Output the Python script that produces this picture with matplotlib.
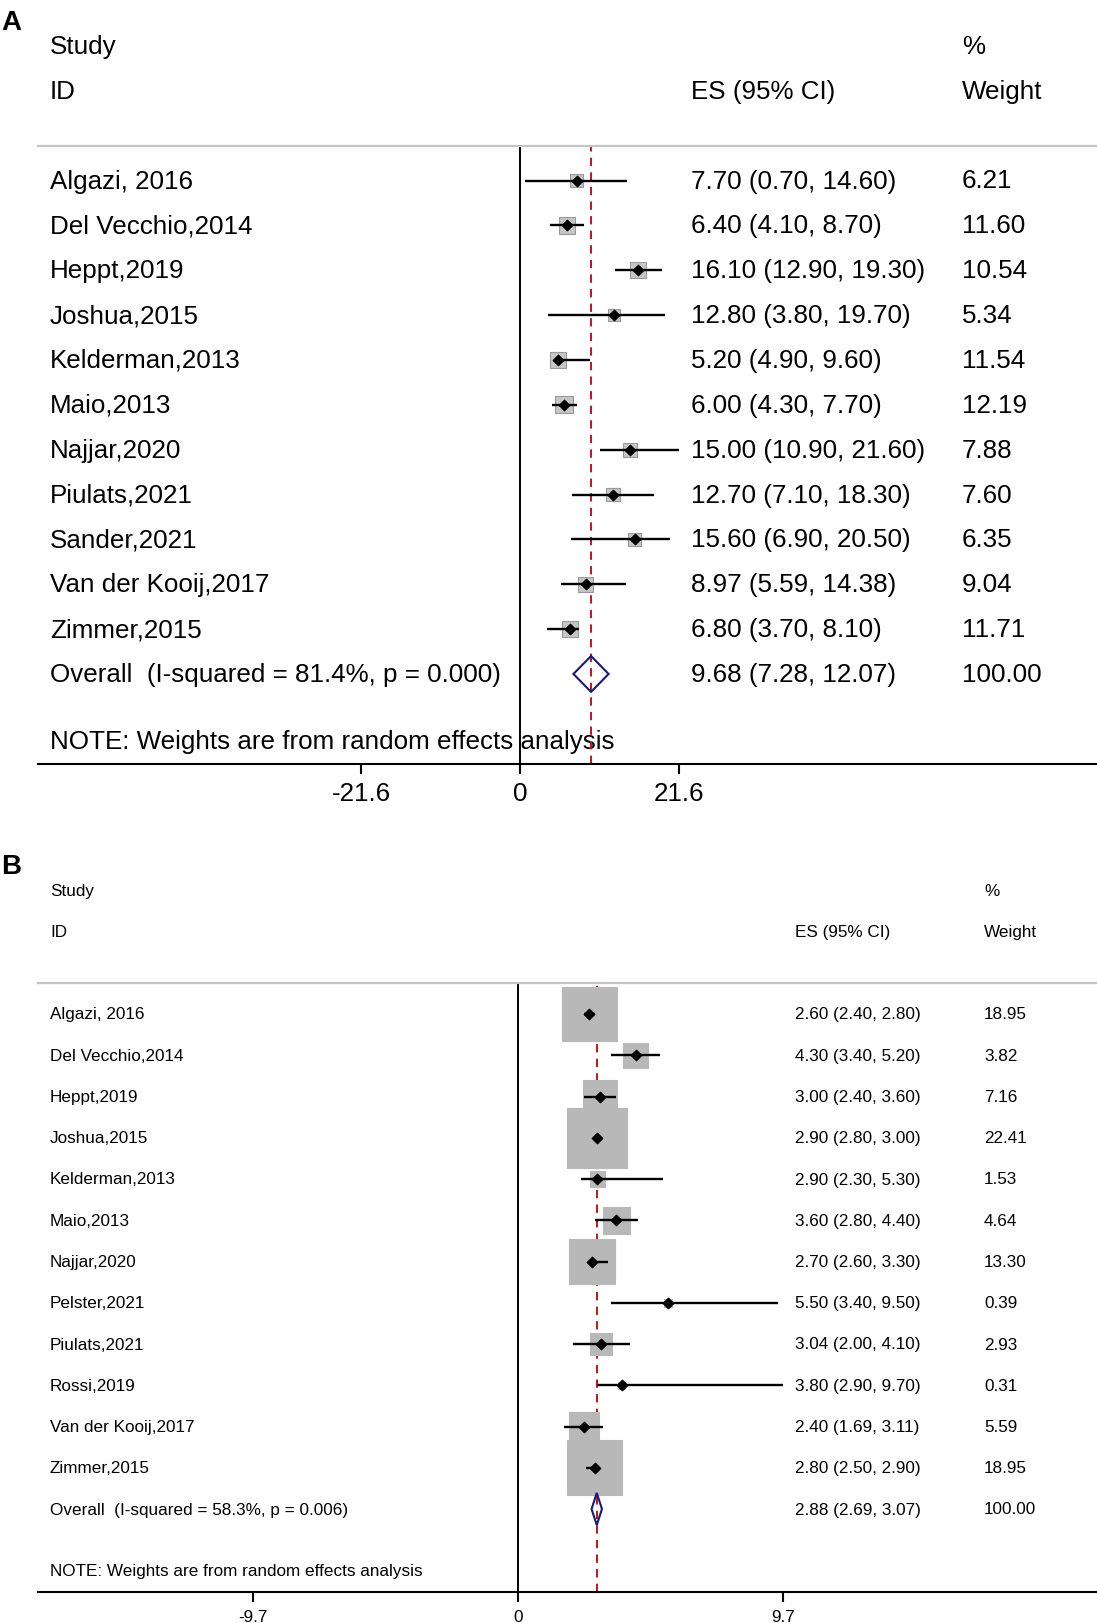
import matplotlib
matplotlib.use('Agg')
import matplotlib.pyplot as plt
from matplotlib.patches import Polygon
import numpy as np

plt.rcParams['font.family'] = ['Liberation Sans', 'DejaVu Sans']

# panel A data
studies_a = ['Algazi, 2016', 'Del Vecchio,2014', 'Heppt,2019', 'Joshua,2015',
             'Kelderman,2013', 'Maio,2013', 'Najjar,2020', 'Piulats,2021',
             'Sander,2021', 'Van der Kooij,2017', 'Zimmer,2015']
es_a = [7.70, 6.40, 16.10, 12.80, 5.20, 6.00, 15.00, 12.70, 15.60, 8.97, 6.80]
lo_a = [0.70, 4.10, 12.90, 3.80, 4.90, 4.30, 10.90, 7.10, 6.90, 5.59, 3.70]
hi_a = [14.60, 8.70, 19.30, 19.70, 9.60, 7.70, 21.60, 18.30, 20.50, 14.38, 8.10]
wt_a = [6.21, 11.60, 10.54, 5.34, 11.54, 12.19, 7.88, 7.60, 6.35, 9.04, 11.71]
ci_txt_a = ['7.70 (0.70, 14.60)', '6.40 (4.10, 8.70)', '16.10 (12.90, 19.30)',
            '12.80 (3.80, 19.70)', '5.20 (4.90, 9.60)', '6.00 (4.30, 7.70)',
            '15.00 (10.90, 21.60)', '12.70 (7.10, 18.30)', '15.60 (6.90, 20.50)',
            '8.97 (5.59, 14.38)', '6.80 (3.70, 8.10)']
wt_txt_a = ['6.21', '11.60', '10.54', '5.34', '11.54', '12.19', '7.88', '7.60',
            '6.35', '9.04', '11.71']
overall_a = (9.68, 7.28, 12.07)
overall_lbl_a = 'Overall  (I-squared = 81.4%, p = 0.000)'
overall_txt_a = '9.68 (7.28, 12.07)'
ticks_a = [-21.6, 0, 21.6]
ticklabels_a = ['-21.6', '0', '21.6']

# panel B data
studies_b = ['Algazi, 2016', 'Del Vecchio,2014', 'Heppt,2019', 'Joshua,2015',
             'Kelderman,2013', 'Maio,2013', 'Najjar,2020', 'Pelster,2021',
             'Piulats,2021', 'Rossi,2019', 'Van der Kooij,2017', 'Zimmer,2015']
es_b = [2.60, 4.30, 3.00, 2.90, 2.90, 3.60, 2.70, 5.50, 3.04, 3.80, 2.40, 2.80]
lo_b = [2.40, 3.40, 2.40, 2.80, 2.30, 2.80, 2.60, 3.40, 2.00, 2.90, 1.69, 2.50]
hi_b = [2.80, 5.20, 3.60, 3.00, 5.30, 4.40, 3.30, 9.50, 4.10, 9.70, 3.11, 2.90]
wt_b = [18.95, 3.82, 7.16, 22.41, 1.53, 4.64, 13.30, 0.39, 2.93, 0.31, 5.59, 18.95]
ci_txt_b = ['2.60 (2.40, 2.80)', '4.30 (3.40, 5.20)', '3.00 (2.40, 3.60)',
            '2.90 (2.80, 3.00)', '2.90 (2.30, 5.30)', '3.60 (2.80, 4.40)',
            '2.70 (2.60, 3.30)', '5.50 (3.40, 9.50)', '3.04 (2.00, 4.10)',
            '3.80 (2.90, 9.70)', '2.40 (1.69, 3.11)', '2.80 (2.50, 2.90)']
wt_txt_b = ['18.95', '3.82', '7.16', '22.41', '1.53', '4.64', '13.30', '0.39',
            '2.93', '0.31', '5.59', '18.95']
overall_b = (2.88, 2.69, 3.07)
overall_lbl_b = 'Overall  (I-squared = 58.3%, p = 0.006)'
overall_txt_b = '2.88 (2.69, 3.07)'
ticks_b = [-9.7, 0, 9.7]
ticklabels_b = ['-9.7', '0', '9.7']

W, H = 1097, 1624
fig = plt.figure(figsize=(W / 100, H / 100), dpi=100)


def forest(studies, es, lo, hi, wt, ci_txt, wt_txt, overall, overall_lbl,
           overall_txt, ticks, ticklabels, top, bottom, row0, dy, x0, ppu,
           x_es, x_wt, fs, box_k, dia_h, box_fc, box_ec, dash, tpad):
    left, right = 38, W
    ax = fig.add_axes([left / W, 1 - bottom / H, (right - left) / W,
                       (bottom - top) / H])
    ax.set_xlim((left - x0) / ppu, (right - x0) / ppu)
    ax.set_ylim((bottom - row0) / dy, (top - row0) / dy)
    for s in ['left', 'right']:
        ax.spines[s].set_visible(False)
    ax.spines['top'].set_color('#c4c4c4')
    ax.spines['top'].set_linewidth(1.6)
    ax.spines['bottom'].set_linewidth(1.5)
    ax.set_yticks([])
    ax.set_xticks(ticks)
    ax.set_xticklabels(ticklabels)
    ax.tick_params(axis='x', length=7, width=1.5, labelsize=fs, pad=tpad)

    n = len(studies)
    rows = np.arange(n)
    ax.axvline(0, color='black', lw=1.4, zorder=2)
    ax.axvline(overall[0], color='#a8262a', lw=1.5, ls=(0, dash), zorder=1)

    side = box_k * np.sqrt(np.array(wt)) * 0.72
    ax.scatter(es, rows, marker='s', s=side ** 2, c=box_fc,
               edgecolors=box_ec, linewidths=0.8, zorder=3)
    ax.hlines(rows, lo, hi, color='black', lw=1.7, zorder=4)
    ax.scatter(es, rows, marker='D', s=28, c='black', zorder=5)

    o_es, o_lo, o_hi = overall
    dia = Polygon([(o_lo, n), (o_es, n - dia_h), (o_hi, n), (o_es, n + dia_h)],
                  closed=True, fill=False, edgecolor='#1c1c6b', lw=1.5,
                  zorder=5)
    ax.add_patch(dia)

    tx = lambda px: (px - x0) / ppu
    xl = tx(50)
    kw = dict(fontsize=fs, va='center', clip_on=False)
    ax.text(xl, -3, 'Study', **kw)
    ax.text(xl, -2, 'ID', **kw)
    ax.text(tx(x_es), -2, 'ES (95% CI)', **kw)
    ax.text(tx(x_wt), -3, '%', **kw)
    ax.text(tx(x_wt), -2, 'Weight', **kw)
    for i in range(n):
        ax.text(xl, i, studies[i], **kw)
        ax.text(tx(x_es), i, ci_txt[i], **kw)
        ax.text(tx(x_wt), i, wt_txt[i], **kw)
    ax.text(xl, n, overall_lbl, **kw)
    ax.text(tx(x_es), n, overall_txt, **kw)
    ax.text(tx(x_wt), n, '100.00', **kw)
    ax.text(xl, n + 1.5, 'NOTE: Weights are from random effects analysis',
            zorder=0, **kw)
    return ax


forest(studies_a, es_a, lo_a, hi_a, wt_a, ci_txt_a, wt_txt_a, overall_a,
       overall_lbl_a, overall_txt_a, ticks_a, ticklabels_a,
       top=147, bottom=765, row0=181.5, dy=44.86, x0=520, ppu=7.34,
       x_es=691, x_wt=962, fs=18.7, box_k=4.9, dia_h=0.4,
       box_fc='#c6c6c6', box_ec='#9a9a9a', dash=(4, 3), tpad=5.5)

forest(studies_b, es_b, lo_b, hi_b, wt_b, ci_txt_b, wt_txt_b, overall_b,
       overall_lbl_b, overall_txt_b, ticks_b, ticklabels_b,
       top=984, bottom=1593, row0=1015, dy=41.25, x0=518, ppu=27.35,
       x_es=795, x_wt=984, fs=12.3, box_k=12.6, dia_h=0.39,
       box_fc='#b8b8b8', box_ec='#b8b8b8', dash=(4, 3), tpad=5.4)

fig.text(1 / W, 1 - 23 / H, 'A', fontsize=20, fontweight='bold', va='center')
fig.text(1 / W, 1 - 867 / H, 'B', fontsize=20, fontweight='bold', va='center')

fig.savefig('out.png', dpi=100, facecolor='white')
